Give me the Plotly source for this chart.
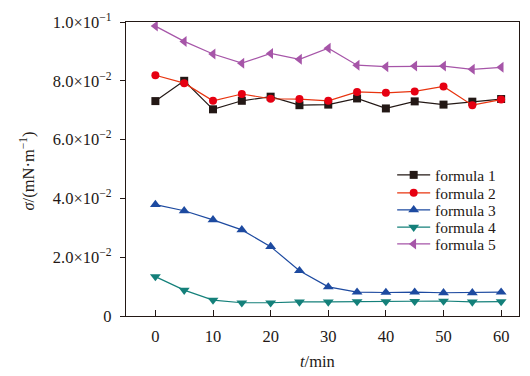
import plotly.graph_objects as go

t = [0, 5, 10, 15, 20, 25, 30, 35, 40, 45, 50, 55, 60]
formula1 = [0.0731, 0.0800, 0.0703, 0.0732, 0.0746, 0.0717, 0.0719, 0.0740, 0.0706, 0.0730, 0.0719, 0.0729, 0.0738]
formula2 = [0.0819, 0.0792, 0.0732, 0.0755, 0.0739, 0.0738, 0.0732, 0.0762, 0.0759, 0.0764, 0.0781, 0.0717, 0.0736]
formula3 = [0.0379, 0.0358, 0.0327, 0.0293, 0.0236, 0.0154, 0.0099, 0.0081, 0.0080, 0.0081, 0.0079, 0.0079, 0.0081]
formula4 = [0.0134, 0.0088, 0.0054, 0.0045, 0.0045, 0.0048, 0.0048, 0.0049, 0.0049, 0.0050, 0.0051, 0.0048, 0.0049]
formula5 = [0.0986, 0.0934, 0.0891, 0.0860, 0.0893, 0.0873, 0.0911, 0.0853, 0.0848, 0.0850, 0.0850, 0.0839, 0.0846]

names = ["formula 1", "formula 2", "formula 3", "formula 4", "formula 5"]
y_tickvals = [0, 0.02, 0.04, 0.06, 0.08, 0.1]
y_ticktext = ["0", "2.0×10<sup>−2</sup>", "4.0×10<sup>−2</sup>", "6.0×10<sup>−2</sup>",
              "8.0×10<sup>−2</sup>", "1.0×10<sup>−1</sup>"]
x_tickvals = [0, 10, 20, 30, 40, 50, 60]
x_title = "<i>t</i>/min"
y_title = "<i>σ</i>/(mN·m<sup>−1</sup>)"

line_colors = ["#231815", "#e8340f", "#1d4aa0", "#14807a", "#a655a8"]
marker_colors = ["#231815", "#e60012", "#1d4aa0", "#14807a", "#a655a8"]
symbols = ["square", "circle", "triangle-up", "triangle-down", "triangle-left"]
data = [formula1, formula2, formula3, formula4, formula5]

font = "Liberation Serif, Times New Roman, serif"
ink = "#231815"

fig = go.Figure()
for name, ys, lc, mc, sym in zip(names, data, line_colors, marker_colors, symbols):
    size = 9.5 if sym.startswith("triangle") else 8
    fig.add_trace(go.Scatter(
        x=t, y=ys, name=name, mode="lines+markers", showlegend=False,
        line=dict(color=lc, width=1.2),
        marker=dict(color=mc, symbol=sym, size=size, line=dict(width=0)),
    ))

# compact legend drawn on an overlay axis spanning the plot area (0..1)
leg_rows = [0.480, 0.419, 0.361, 0.302, 0.245]
key_x0, key_x1, text_x = 0.690, 0.774, 0.780
for name, ry, lc, mc, sym in zip(names, leg_rows, line_colors, marker_colors, symbols):
    size = 9.5 if sym.startswith("triangle") else 8
    fig.add_trace(go.Scatter(
        x=[key_x0, key_x1], y=[ry, ry], mode="lines", xaxis="x2", yaxis="y2",
        showlegend=False, hoverinfo="skip", line=dict(color=lc, width=1.2)))
    fig.add_trace(go.Scatter(
        x=[(key_x0 + key_x1) / 2], y=[ry], mode="markers", xaxis="x2", yaxis="y2",
        showlegend=False, hoverinfo="skip",
        marker=dict(color=mc, symbol=sym, size=size, line=dict(width=0))))
    fig.add_annotation(x=text_x, y=ry, xref="x2", yref="y2", text=name, showarrow=False,
                       xanchor="left", yanchor="middle", height=16,
                       font=dict(size=15.5, color=ink))

# axis titles
fig.add_annotation(x=0.4885, y=-0.156, xref="paper", yref="paper", text=x_title,
                   showarrow=False, xanchor="center", yanchor="middle",
                   font=dict(size=16.5, color=ink))
fig.add_annotation(x=-0.2506, y=0.493, xref="paper", yref="paper", text=y_title,
                   showarrow=False, xanchor="center", yanchor="middle", textangle=-90,
                   font=dict(size=16.5, color=ink))

# page body has an 8px margin, so the figure is sized/offset to compensate
fig.update_layout(
    width=522, height=368,
    margin=dict(l=118, r=11, t=14, b=60),
    paper_bgcolor="white", plot_bgcolor="white",
    font=dict(family=font, size=16.5, color=ink),
    showlegend=False,
    xaxis=dict(range=[-5.1, 63.1], tickvals=x_tickvals, ticks="inside", ticklen=6,
               showgrid=False, zeroline=False, showline=True, linecolor=ink,
               linewidth=1.2, mirror=True, tickcolor=ink, automargin=False,
               ticklabelstandoff=5),
    yaxis=dict(range=[0, 0.1], tickvals=y_tickvals, ticktext=y_ticktext, ticks="outside",
               ticklen=5, showgrid=False, zeroline=False, showline=True,
               linecolor=ink, linewidth=1.2, mirror=True, tickcolor=ink,
               automargin=False, ticklabelstandoff=5),
    xaxis2=dict(overlaying="x", range=[0, 1], visible=False, fixedrange=True),
    yaxis2=dict(overlaying="y", range=[0, 1], visible=False, fixedrange=True),
)

fig.write_html("out.html")
